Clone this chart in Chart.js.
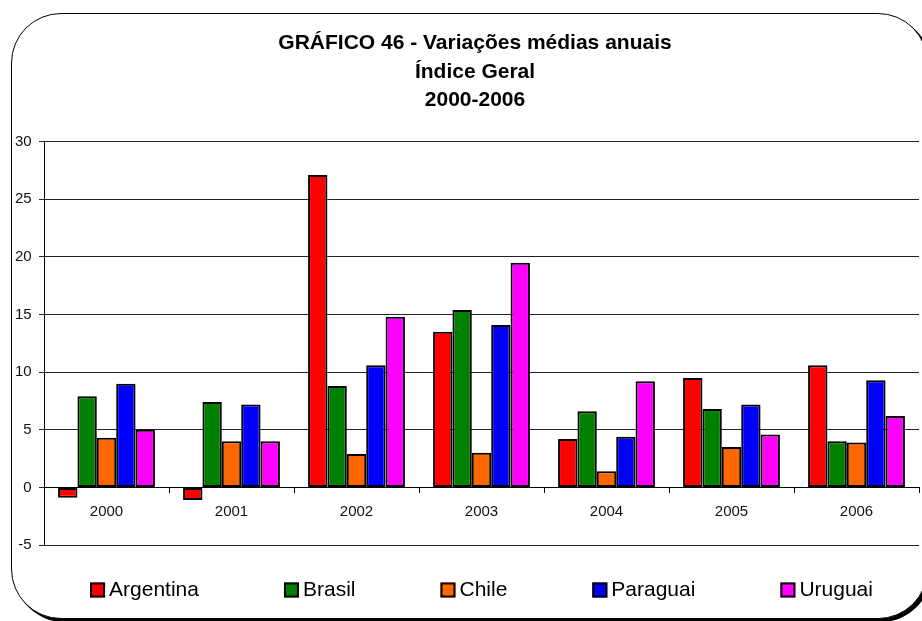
<!DOCTYPE html>
<html>
<head>
<meta charset="utf-8">
<script src="https://cdn.jsdelivr.net/npm/chart.js@4.4.1/dist/chart.umd.min.js"></script>
<style>
  body { margin: 0; background: #fff; overflow: hidden; }
  #wrap { position: relative; width: 922px; height: 621px; }
  #frame {
    position: absolute; left: 11px; top: 13px; width: 917px; height: 606px;
    box-sizing: border-box; border: 1.5px solid #000; border-radius: 50px;
    box-shadow: 3px 3px 0 #000; background: #fff;
  }
  #chart { position: absolute; left: 0; top: 0; }
</style>
</head>
<body>
<div id="wrap">
  <div id="frame"></div>
  <canvas id="chart" width="922" height="621"></canvas>
</div>
<script>
// data
const years = ["2000", "2001", "2002", "2003", "2004", "2005", "2006"];
const argentina = [-0.9, -1.1, 27.1, 13.5, 4.2, 9.5, 10.6];
const brasil = [7.9, 7.4, 8.8, 15.4, 6.6, 6.8, 4.0];
const chile = [4.3, 4.0, 2.9, 3.0, 1.4, 3.5, 3.9];
const paraguai = [9.0, 7.2, 10.6, 14.1, 4.4, 7.2, 9.3];
const uruguai = [5.0, 4.0, 14.8, 19.5, 9.2, 4.6, 6.2];

const titleLines = ["GRÁFICO 46 - Variações médias anuais", "Índice Geral", "2000-2006"];

const FONT = '"Liberation Sans", Arial, sans-serif';
Chart.defaults.font.family = FONT;
Chart.defaults.color = "#000";

const makeSet = (label, data, color) => ({
    label,
    data,
    backgroundColor: color,
    borderColor: "#000",
    borderWidth: 2,
    borderSkipped: false,
    barPercentage: 1,
    categoryPercentage: 0.775
});

// legend drawn by hand so the wide gaps between items match the original
const spacedLegend = {
    id: "spacedLegend",
    afterDraw(chart) {
        const ctx = chart.ctx;
        const box = 15, gap = 4, spacing = 85, cy = 590, cx = 481.5;
        ctx.save();
        ctx.font = "21px " + FONT;
        const items = chart.data.datasets.map(ds => ({ ds, w: box + gap + ctx.measureText(ds.label).width }));
        const total = items.reduce((s, it) => s + it.w, 0) + spacing * (items.length - 1);
        let x = cx - total / 2;
        items.forEach(({ ds, w }) => {
            ctx.fillStyle = ds.backgroundColor;
            ctx.fillRect(x, cy - box / 2, box, box);
            ctx.lineWidth = 2;
            ctx.strokeStyle = "#000";
            ctx.strokeRect(x + 1, cy - box / 2 + 1, box - 2, box - 2);
            ctx.fillStyle = "#000";
            ctx.textBaseline = "middle";
            ctx.textAlign = "left";
            ctx.fillText(ds.label, x + box + gap, cy);
            x += w + spacing;
        });
        ctx.restore();
    }
};

new Chart(document.getElementById("chart"), {
    type: "bar",
    data: {
        labels: years,
        datasets: [
            makeSet("Argentina", argentina, "#FF0000"),
            makeSet("Brasil", brasil, "#008000"),
            makeSet("Chile", chile, "#FF6600"),
            makeSet("Paraguai", paraguai, "#0000FF"),
            makeSet("Uruguai", uruguai, "#FF00FF")
        ]
    },
    options: {
        responsive: false,
        animation: false,
        layout: { padding: { top: 29, left: 31, right: 3, bottom: 76 } },
        plugins: {
            legend: { display: false },
            tooltip: { enabled: false },
            title: {
                display: true,
                text: titleLines,
                color: "#000",
                font: { size: 21, weight: "bold", lineHeight: 1.36 },
                padding: { top: 0, bottom: 27 }
            }
        },
        scales: {
            x: {
                position: { y: 0 },
                grid: { offset: true, drawOnChartArea: false, drawTicks: true, tickLength: 5, color: "#000" },
                border: { display: true, color: "#000", width: 1 },
                ticks: { font: { size: 15 }, color: "#111", padding: 10, maxRotation: 0 }
            },
            y: {
                min: -5,
                max: 30,
                // narrow axis box; labels are pushed out to the left of it
                afterFit: scale => { scale.width = 13; },
                grid: { color: "#222", tickLength: 5 },
                border: { display: true, color: "#000", width: 1 },
                ticks: { stepSize: 5, font: { size: 15 }, color: "#111", mirror: true, crossAlign: "far", padding: -29 }
            }
        }
    },
    plugins: [spacedLegend]
});
</script>
</body>
</html>
